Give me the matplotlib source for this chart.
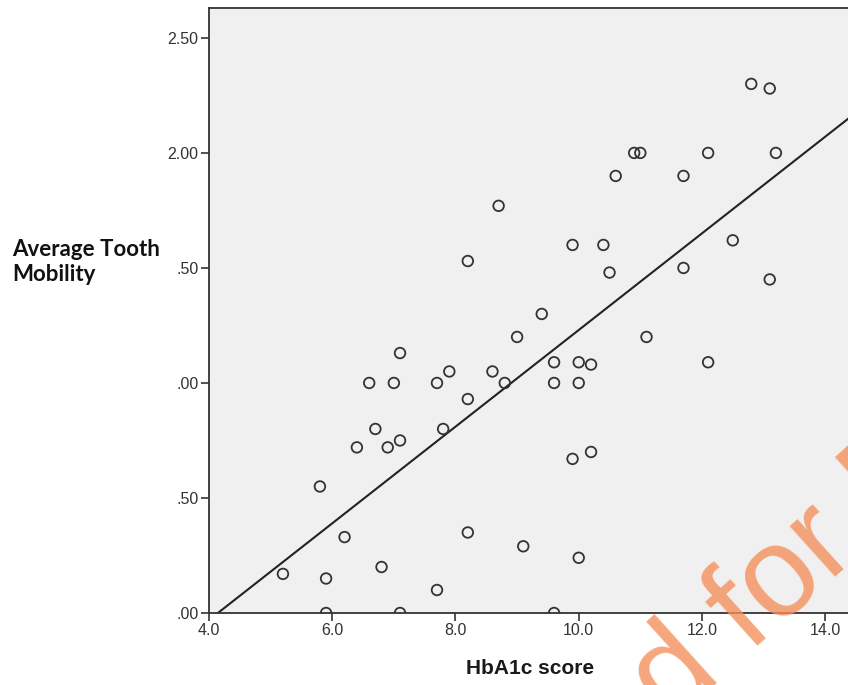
import numpy as np
import matplotlib
matplotlib.use("Agg")
from matplotlib import pyplot as plt

# HbA1c score vs average tooth mobility
hba1c = [12.8, 13.1, 10.9, 11.0, 12.1, 13.2, 10.6, 11.7, 8.7, 8.2,
         9.9, 10.4, 10.5, 12.5, 11.7, 13.1, 9.4, 9.0, 11.1, 9.6,
         10.0, 10.2, 12.1, 8.6, 7.9, 8.8, 9.6, 10.0, 8.2, 7.1,
         6.6, 7.0, 7.7, 6.7, 7.8, 6.4, 6.9, 7.1, 9.9, 10.2,
         5.8, 6.2, 8.2, 9.1, 10.0, 5.2, 5.9, 6.8, 7.7, 5.9,
         7.1, 9.6]
mobility = [2.30, 2.28, 2.00, 2.00, 2.00, 2.00, 1.90, 1.90, 1.77, 1.53,
            1.60, 1.60, 1.48, 1.62, 1.50, 1.45, 1.30, 1.20, 1.20, 1.09,
            1.09, 1.08, 1.09, 1.05, 1.05, 1.00, 1.00, 1.00, 0.93, 1.13,
            1.00, 1.00, 1.00, 0.80, 0.80, 0.72, 0.72, 0.75, 0.67, 0.70,
            0.55, 0.33, 0.35, 0.29, 0.24, 0.17, 0.15, 0.20, 0.10, 0.00,
            0.00, 0.00]

x_ticks = [4.0, 6.0, 8.0, 10.0, 12.0, 14.0]
x_ticklabels = ["4.0", "6.0", "8.0", "10.0", "12.0", "14.0"]
y_ticks = [0.0, 0.5, 1.0, 1.5, 2.0, 2.5]
y_ticklabels = [".00", ".50", ".00", ".50", "2.00", "2.50"]

fig = plt.figure(figsize=(8.48, 6.85), dpi=100)
ax = fig.add_axes([209 / 848, 1 - 613 / 685, 1 - 209 / 848, (613 - 8) / 685])
ax.set_facecolor("#f0f0f0")

ax.scatter(hba1c, mobility, s=58, facecolors="none", edgecolors="#333333",
           linewidths=1.3, zorder=3)

# least squares line
slope, intercept = np.polyfit(hba1c, mobility, 1)
xl = np.array([3.5, 15.0])
ax.plot(xl, intercept + slope * xl, color="#222222", lw=1.5, zorder=2)

ax.set_xlim(4.0, 14.37)
ax.set_ylim(0.0, 2.63)
ax.set_xticks(x_ticks)
ax.set_xticklabels(x_ticklabels)
ax.set_yticks(y_ticks)
ax.set_yticklabels(y_ticklabels)
ax.tick_params(direction="out", length=6, width=1.2, color="#333333",
               labelsize=11.5, labelcolor="#333333", pad=1.5)
for lab in ax.get_xticklabels() + ax.get_yticklabels():
    lab.set_fontfamily("Liberation Sans")
for sp in ["left", "bottom", "top"]:
    ax.spines[sp].set_color("#333333")
    ax.spines[sp].set_linewidth(1.3)
ax.spines["right"].set_visible(False)

fig.text(12 / 848, 1 - 262 / 685, "Average Tooth\nMobility", fontsize=16,
         fontweight="bold", family="Lato", ha="left", va="center",
         linespacing=1.25, color="#111111")
fig.text(530 / 848, 1 - 668 / 685, "HbA1c score", fontsize=15,
         fontweight="bold", family="Liberation Sans", ha="center", va="center",
         color="#1a1a1a")

# watermark
fig.text(618 / 848, 1 - 772 / 685, "ed for R", fontsize=92, rotation=42,
         color="#f4905c", alpha=0.8, family="Liberation Sans", ha="left",
         va="baseline", rotation_mode="anchor", zorder=10)

fig.savefig("out.png", dpi=100)
